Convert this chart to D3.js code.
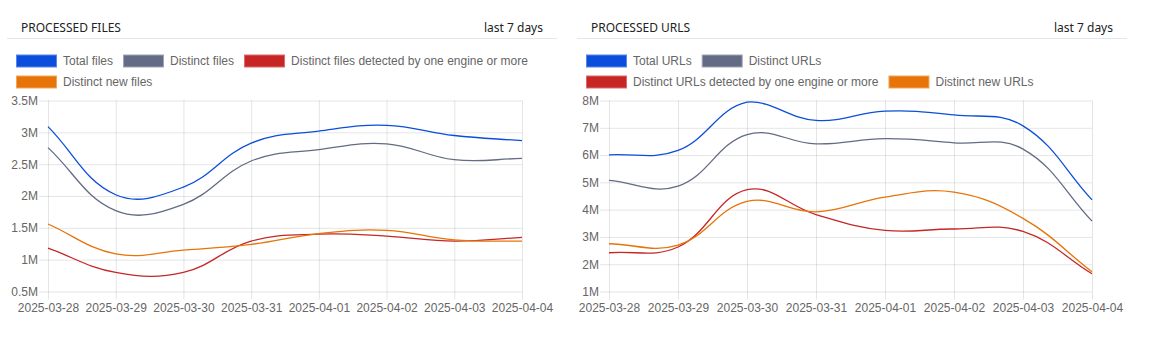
<!DOCTYPE html>
<html>
<head>
<meta charset="utf-8">
<script src="https://cdn.jsdelivr.net/npm/d3@7"></script>
<style>
  body { margin: 0; background: #fff; }
  svg { display: block; }
  .head { font-family: "Noto Sans", sans-serif; font-size: 12px; fill: #222; }
  .lg, .tick text { font-family: "Liberation Sans", Arial, sans-serif; font-size: 12px; fill: #666; }
</style>
</head>
<body>
<script>
// dates on the x axis
var days = ["2025-03-28", "2025-03-29", "2025-03-30", "2025-03-31",
            "2025-04-01", "2025-04-02", "2025-04-03", "2025-04-04"];

// processed files
var totalFiles    = [3090000, 2020000, 2140000, 2830000, 3020000, 3110000, 2950000, 2870000];
var distinctFiles = [2760000, 1770000, 1870000, 2550000, 2730000, 2820000, 2570000, 2590000];
var detectedFiles = [1180000,  800000,  800000, 1290000, 1400000, 1370000, 1290000, 1350000];
var newFiles      = [1560000, 1090000, 1150000, 1240000, 1410000, 1460000, 1310000, 1290000];

// processed urls
var totalUrls    = [6010000, 6170000, 7940000, 7270000, 7610000, 7470000, 7070000, 4360000];
var distinctUrls = [5070000, 4860000, 6750000, 6410000, 6600000, 6450000, 6220000, 3580000];
var detectedUrls = [2420000, 2630000, 4730000, 3820000, 3240000, 3290000, 3200000, 1650000];
var newUrls      = [2750000, 2700000, 4300000, 3920000, 4460000, 4640000, 3680000, 1720000];

var fileTicks = [500000, 1000000, 1500000, 2000000, 2500000, 3000000, 3500000];
var urlTicks  = [1000000, 2000000, 3000000, 4000000, 5000000, 6000000, 7000000, 8000000];

var colors = {blue: "#0b4edb", grey: "#636b85", red: "#c62626", orange: "#e67408"};
var borders = {blue: "#5a86e8", grey: "#a0a6b6", red: "#dc6a6a", orange: "#f1a55c"};

var svg = d3.select("body").append("svg")
	.attr("width", 1153)
	.attr("height", 341);

// chart.js style bezier (tension .4, control points kept in the plot area)
function chartCurve(top, bottom) {
	return function(context) {
		var pts;
		return {
			areaStart: function() {}, areaEnd: function() {},
			lineStart: function() { pts = []; },
			point: function(x, y) { pts.push([+x, +y]); },
			lineEnd: function() {
				var n = pts.length, t = 0.4;
				var cy = function(v) { return Math.max(top, Math.min(bottom, v)); };
				var cp = pts.map(function(cur, i) {
					var prev = pts[Math.max(i - 1, 0)], next = pts[Math.min(i + 1, n - 1)];
					var d01 = Math.hypot(cur[0] - prev[0], cur[1] - prev[1]);
					var d12 = Math.hypot(next[0] - cur[0], next[1] - cur[1]);
					var s01 = d01 / (d01 + d12) || 0, s12 = d12 / (d01 + d12) || 0;
					var fa = t * s01, fb = t * s12;
					return {
						px: cur[0] - fa * (next[0] - prev[0]), py: cy(cur[1] - fa * (next[1] - prev[1])),
						nx: cur[0] + fb * (next[0] - prev[0]), ny: cy(cur[1] + fb * (next[1] - prev[1]))
					};
				});
				context.moveTo(pts[0][0], pts[0][1]);
				for (var i = 1; i < n; i++) {
					context.bezierCurveTo(cp[i - 1].nx, cp[i - 1].ny, cp[i].px, cp[i].py, pts[i][0], pts[i][1]);
				}
			}
		};
	};
}

function fmt(v) { return (v / 1e6) + "M"; }

function panel(opt) {
	var g = svg.append("g").attr("transform", "translate(" + opt.x + ",0)");

	// header
	g.append("text").attr("class", "head").attr("x", 21).attr("y", 32).text(opt.title);
	g.append("text").attr("class", "head").attr("x", 543).attr("y", 32)
		.attr("text-anchor", "end").text("last 7 days");
	g.append("line").attr("x1", 7).attr("x2", 557).attr("y1", 38.5).attr("y2", 38.5)
		.attr("stroke", "#e3e7ed");

	// legend, wrapped like chart.js does
	var lx = 16, ly = 61;
	opt.series.forEach(function(s) {
		var item = g.append("g");
		var txt = item.append("text").attr("class", "lg").attr("dy", "0.35em").text(s.name);
		var w = txt.node().getComputedTextLength();
		if (lx + 46 + w > 540) { lx = 16; ly += 21; }
		item.attr("transform", "translate(" + lx + "," + ly + ")");
		item.insert("rect", "text").attr("x", 0.5).attr("y", -6).attr("width", 40).attr("height", 12)
			.attr("fill", colors[s.c]).attr("stroke", borders[s.c]);
		txt.attr("x", 47);
		lx += 47 + w + 10;
	});

	var x = d3.scalePoint().domain(days).range([opt.left, 522]);
	var y = d3.scaleLinear().domain(opt.domain).range([291.5, 100.5]);

	// grid
	g.append("g")
		.attr("transform", "translate(0,291.5)")
		.call(d3.axisBottom(x).tickSize(-191).tickPadding(0).tickFormat(function() { return ""; }))
		.call(function(a) { a.select(".domain").remove(); });
	var xa = g.append("g")
		.attr("transform", "translate(0,291.5)")
		.call(d3.axisBottom(x).tickSize(8).tickPadding(4));
	xa.select(".domain").remove();
	var ya = g.append("g")
		.attr("transform", "translate(" + opt.left + ",0)")
		.call(d3.axisLeft(y).tickValues(opt.ticks).tickFormat(fmt).tickSize(-(522 - opt.left)).tickPadding(10))
		.call(function(a) { a.selectAll(".tick line").attr("x1", -9); });
	ya.select(".domain").remove();
	g.selectAll(".tick line").attr("stroke", "rgba(0,0,0,0.1)");

	// lines
	var line = d3.line()
		.x(function(d, i) { return x(days[i]); })
		.y(function(d) { return y(d); })
		.curve(chartCurve(100, 291.5));
	opt.series.forEach(function(s) {
		g.append("path").datum(s.values)
			.attr("d", line)
			.attr("fill", "none")
			.attr("stroke", colors[s.c])
			.attr("stroke-width", 1.3);
	});
}

panel({
	x: 0, left: 48, title: "PROCESSED FILES", domain: [500000, 3500000], ticks: fileTicks,
	series: [
		{name: "Total files", values: totalFiles, c: "blue"},
		{name: "Distinct files", values: distinctFiles, c: "grey"},
		{name: "Distinct files detected by one engine or more", values: detectedFiles, c: "red"},
		{name: "Distinct new files", values: newFiles, c: "orange"}
	]
});

panel({
	x: 570, left: 39, title: "PROCESSED URLS", domain: [1000000, 8000000], ticks: urlTicks,
	series: [
		{name: "Total URLs", values: totalUrls, c: "blue"},
		{name: "Distinct URLs", values: distinctUrls, c: "grey"},
		{name: "Distinct URLs detected by one engine or more", values: detectedUrls, c: "red"},
		{name: "Distinct new URLs", values: newUrls, c: "orange"}
	]
});
</script>
</body>
</html>
